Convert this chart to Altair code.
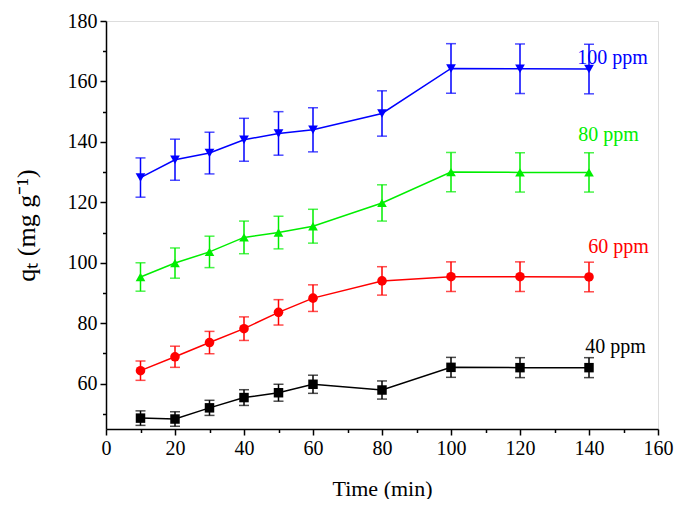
import altair as alt
import pandas as pd

time = [10, 20, 30, 40, 50, 60, 80, 100, 120, 140]
series = ["40 ppm", "60 ppm", "80 ppm", "100 ppm"]
colors = ["#000000", "#ff0000", "#00ee00", "#0000ff"]
shapes = ["square", "circle", "triangle-up", "triangle-down"]
sizes = [90, 95, 160, 160]

q40 = [48.6, 48.3, 52.0, 55.4, 57.0, 59.8, 57.9, 65.4, 65.3, 65.3]
e40 = [2.4, 2.4, 2.5, 2.6, 2.8, 3.0, 3.0, 3.3, 3.3, 3.3]
q60 = [64.3, 68.9, 73.6, 78.2, 83.6, 88.3, 94.0, 95.4, 95.4, 95.3]
e60 = [3.2, 3.5, 3.7, 3.9, 4.2, 4.4, 4.7, 4.9, 4.9, 4.9]
q80 = [95.3, 99.9, 103.6, 108.4, 110.0, 112.1, 119.8, 130.0, 129.9, 129.9]
e80 = [4.7, 5.0, 5.2, 5.4, 5.4, 5.6, 6.0, 6.5, 6.5, 6.5]
q100 = [128.2, 134.1, 136.3, 140.7, 142.8, 144.0, 149.4, 164.3, 164.2, 164.1]
e100 = [6.5, 6.8, 6.9, 7.1, 7.2, 7.3, 7.5, 8.2, 8.2, 8.2]

label_x = [138.9, 139.8, 136.9, 136.6]
label_y = [72.0, 105.3, 142.4, 167.9]

rows = []
for s, vals, errs in zip(series, [q40, q60, q80, q100], [e40, e60, e80, e100]):
    for t, v, e in zip(time, vals, errs):
        rows.append({"time": t, "q": v, "lo": v - e, "hi": v + e, "series": s})
df = pd.DataFrame(rows)
labels = pd.DataFrame({"series": series, "lx": label_x, "ly": label_y})

FONT = "Liberation Serif"

def axis(title, values, pad, tsize):
    return alt.Axis(
        title=title, values=values, tickCount=40, grid=False,
        labelExpr="datum.value % 20 === 0 ? datum.label : ''",
        labelOverlap=False, labelFlush=False,
        tickSize={"condition": {"test": "datum.value % 20 === 0", "value": 6}, "value": 3.5},
        tickColor="black", tickWidth=1.5,
        domainColor="black", domainWidth=1.5,
        labelFont=FONT, labelFontSize=20, labelColor="black", labelPadding=3,
        titleFont=FONT, titleFontSize=tsize, titleColor="black",
        titleFontWeight=400, titlePadding=pad,
    )

xs = alt.Scale(domain=[0, 160], nice=False, zero=False)
ys = alt.Scale(domain=[45, 180], nice=False, zero=False)
X = alt.X("time:Q", scale=xs, axis=axis("Time (min)", list(range(0, 161, 10)), 20, 22))
Y = alt.Y("q:Q", scale=ys, axis=axis("qₜ (mg g⁻¹)", list(range(50, 181, 10)), 28, 26))
color = alt.Color("series:N", scale=alt.Scale(domain=series, range=colors), legend=None)
shape = alt.Shape("series:N", scale=alt.Scale(domain=series, range=shapes), legend=None)
size = alt.Size("series:N", scale=alt.Scale(domain=series, range=sizes), legend=None)

base = alt.Chart(df)
lines = base.mark_line(strokeWidth=1.5).encode(x=X, y=Y, color=color, detail="series:N")
rules = base.mark_rule(strokeWidth=1.5).encode(
    x="time:Q", y="lo:Q", y2="hi:Q", color=color)
cap_lo = base.mark_tick(orient="horizontal", size=10, thickness=1.5).encode(
    x="time:Q", y="lo:Q", color=color)
cap_hi = base.mark_tick(orient="horizontal", size=10, thickness=1.5).encode(
    x="time:Q", y="hi:Q", color=color)
pts = base.mark_point(filled=True, opacity=1).encode(
    x="time:Q", y="q:Q", color=color, shape=shape, size=size)
txt = alt.Chart(labels).mark_text(
    font=FONT, fontSize=20, align="left", baseline="middle").encode(
    x="lx:Q", y="ly:Q", text="series:N", color=color)

chart = alt.layer(lines, rules, cap_lo, cap_hi, pts, txt).properties(
    width=552, height=408,
    autosize=alt.AutoSizeParams(type="none"),
    padding={"left": 98, "top": 13, "right": 20, "bottom": 70},
).configure_view(stroke="black", strokeWidth=1.5).configure_axis(
    titleFontWeight=400, titleFont=FONT
).configure(background="white")

chart.save("out.html", embed_options={"renderer": "svg", "actions": False})
